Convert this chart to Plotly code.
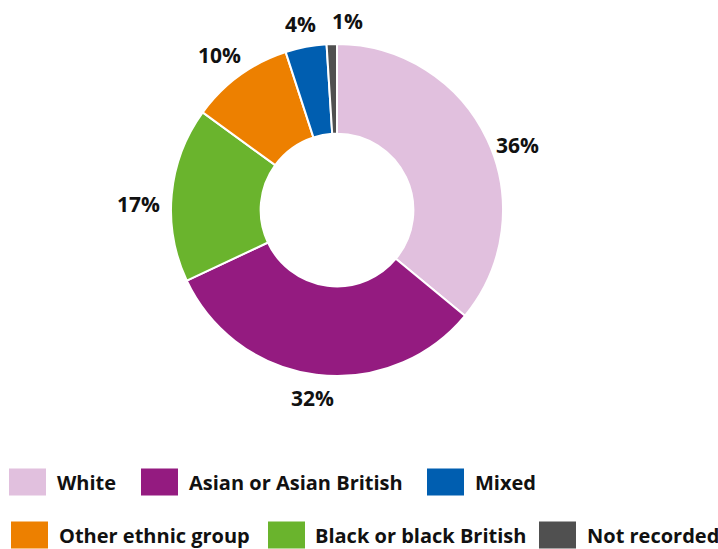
import math
import plotly.graph_objects as go

# Data (clockwise from 12 o'clock)
labels = ["White", "Asian or Asian British", "Black or black British",
          "Other ethnic group", "Mixed", "Not recorded"]
values = [36, 32, 17, 10, 4, 1]
colors = ["#E1C0DE", "#941B80", "#6AB42D", "#ED8000", "#005EB0", "#505050"]

# Legend order as shown (two rows)
legend_rows = [["White", "Asian or Asian British", "Mixed"],
               ["Other ethnic group", "Black or black British", "Not recorded"]]

W, H = 718, 549
FONT = "Open Sans"
LABEL_SIZE = 21

dom_x = [171 / W, 503 / W]
dom_y = [1 - 376 / H, 1 - 44 / H]

fig = go.Figure()
fig.add_trace(go.Pie(
    labels=labels, values=values, sort=False, direction="clockwise", rotation=0,
    hole=0.46,
    marker=dict(colors=colors, line=dict(color="white", width=2)),
    textinfo="none", textposition="none", hoverinfo="label+percent",
    showlegend=False, automargin=False,
    domain=dict(x=dom_x, y=dom_y),
))

# Percentage labels placed outside each slice at its mid-angle
cx0 = (dom_x[0] + dom_x[1]) / 2 * W
cy0 = (1 - (dom_y[0] + dom_y[1]) / 2) * H
R = min((dom_x[1] - dom_x[0]) * W, (dom_y[1] - dom_y[0]) * H) / 2
pad, half_h, gap = 12, 11, 16
total = sum(values)
annots, boxes = [], []
cum = 0
for v in values:
    mid = (cum + v / 2) / total * 2 * math.pi
    cum += v
    ux, uy = math.sin(mid), -math.cos(mid)
    txt = f"{v}%"
    w = 0.58 * LABEL_SIZE * (len(txt) - 1) + 0.87 * LABEL_SIZE
    px = cx0 + (R + pad) * ux + w / 2 * ux
    py = cy0 + (R + pad) * uy + half_h * (1 if uy > -0.6 else -1)
    for (bx0, bx1, by0, by1) in boxes:
        if py + half_h > by0 and py - half_h < by1 and px - w / 2 < bx1 + gap and px + w / 2 > bx0 - gap:
            px = bx1 + gap + w / 2
    boxes.append((px - w / 2, px + w / 2, py - half_h, py + half_h))
    annots.append(dict(xref="paper", yref="paper", x=px / W, y=1 - py / H,
                       xanchor="center", yanchor="middle", showarrow=False,
                       text=f"<b>{txt}</b>",
                       font=dict(family=FONT, size=LABEL_SIZE, color="#111111")))

# Custom legend (layout positions in pixels)
row_y = [482, 535]
swatch_x = [[9, 141, 427], [11, 268, 539]]
text_x = [[55, 187, 473], [57, 313, 585]]
sw_w, sw_h = 37, 27
color_of = dict(zip(labels, colors))
shapes = []
for r, row in enumerate(legend_rows):
    for i, name in enumerate(row):
        x0 = swatch_x[r][i]
        yc = row_y[r]
        shapes.append(dict(type="rect", xref="paper", yref="paper",
                           x0=x0 / W, x1=(x0 + sw_w) / W,
                           y0=1 - (yc + sw_h / 2) / H, y1=1 - (yc - sw_h / 2) / H,
                           fillcolor=color_of[name], line=dict(width=0)))
        annots.append(dict(xref="paper", yref="paper", x=text_x[r][i] / W,
                           y=1 - yc / H, xanchor="left", yanchor="middle",
                           text=f"<b>{name}</b>", showarrow=False,
                           font=dict(family=FONT, size=20, color="#111111")))

fig.update_layout(
    width=W, height=H, margin=dict(l=0, r=0, t=0, b=0),
    paper_bgcolor="white", plot_bgcolor="white",
    shapes=shapes, annotations=annots,
    font=dict(family=FONT), showlegend=False,
)
fig.write_html("out.html")
